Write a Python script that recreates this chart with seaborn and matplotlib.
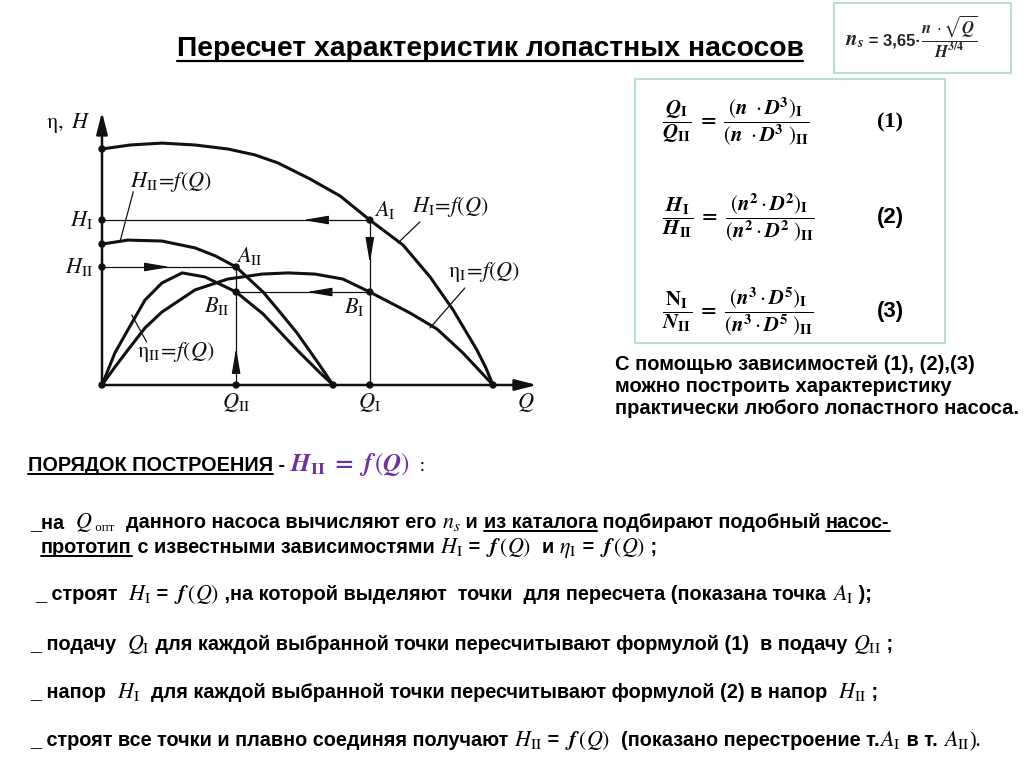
import matplotlib
matplotlib.use('Agg')
import numpy as np
import pandas as pd
import matplotlib.pyplot as plt
from matplotlib import font_manager
from matplotlib.lines import Line2D
from matplotlib.patches import Rectangle
import seaborn as sns

# Curves (Q and H / eta in relative units, origin at 0)
q_h1 = [0, 0.72, 1.53, 2.38, 3.22, 3.91, 4.50, 5.32, 6.09, 6.85, 7.70, 8.39, 8.98, 9.59, 9.82, 10.0]
h1 = [10.0, 10.17, 10.25, 10.17, 10.0, 9.75, 9.41, 8.73, 8.01, 6.99, 5.93, 4.58, 3.18, 1.48, 0.72, 0]

q_eta1 = [0, 0.33, 0.66, 1.10, 1.53, 2.38, 3.22, 4.09, 4.76, 5.45, 6.16, 6.85, 7.88, 8.57, 9.23, 10.0]
eta1 = [0, 0.76, 1.48, 2.42, 3.09, 4.03, 4.49, 4.70, 4.75, 4.70, 4.49, 3.94, 3.05, 2.37, 1.36, 0]

q_h2 = [0, 0.66, 1.53, 2.38, 2.90, 3.43, 4.12, 4.55, 4.99, 5.58, 5.91]
h2 = [5.97, 6.14, 6.10, 5.81, 5.47, 5.00, 3.94, 3.09, 2.20, 0.81, 0]

q_eta2 = [0, 0.33, 0.66, 1.10, 1.53, 2.05, 2.63, 3.22, 3.43, 4.12, 4.99, 5.58, 5.91]
eta2 = [0, 1.36, 2.33, 3.60, 4.32, 4.75, 4.58, 4.11, 3.94, 3.01, 1.48, 0.51, 0]

# recalculated points
Q_I, Q_II = 6.85, 3.43
H_A1, H_A2, ETA_B = 6.99, 5.00, 3.94

W, H = 1024, 767
ink = '#111111'

sns.set_theme(style='white')
plt.rcParams['font.family'] = ['Liberation Sans', 'DejaVu Sans']
plt.rcParams['mathtext.fontset'] = 'stix'

names = {f.name for f in font_manager.fontManager.ttflist}
if 'Liberation Sans Narrow' in names:
    BODY, FS = 'Liberation Sans Narrow', 15.5
else:
    BODY, FS = 'Liberation Sans', 14.3

fig = plt.figure(figsize=(W / 100, H / 100), dpi=100)
fig.patch.set_facecolor('white')
renderer = fig.canvas.get_renderer()


def run(x, y, parts):
    # place pieces of text one after another on a common baseline (pixel coords)
    for p in parts:
        s, st = p[0], p[1]
        ul = len(p) > 2 and p[2]
        dy = p[3] if len(p) > 3 else 0
        t = fig.text(x / W, 1 - (y + dy) / H, s, ha='left', va='baseline', **st)
        bb = t.get_window_extent(renderer)
        if ul:
            fig.add_artist(Line2D([bb.x0 / W, bb.x1 / W], [1 - (y + 3) / H] * 2,
                                  color=st.get('color', 'black'), lw=1.4))
        x = bb.x1
    return x


# ---------------- chart ----------------
X0, Y0, SX, SY = 102, 385, 39.1, 23.6
ax = fig.add_axes([40 / W, 1 - 420 / H, 520 / W, 320 / H])
ax.set_xlim((40 - X0) / SX, (560 - X0) / SX)
ax.set_ylim((Y0 - 420) / SY, (Y0 - 100) / SY)
ax.axis('off')

curves = pd.concat([
    pd.DataFrame({'Q': q_h1, 'v': h1, 'curve': 'H_I'}),
    pd.DataFrame({'Q': q_eta1, 'v': eta1, 'curve': 'eta_I'}),
    pd.DataFrame({'Q': q_h2, 'v': h2, 'curve': 'H_II'}),
    pd.DataFrame({'Q': q_eta2, 'v': eta2, 'curve': 'eta_II'}),
])
sns.lineplot(data=curves, x='Q', y='v', units='curve', estimator=None, sort=False,
             color=ink, lw=2.2, ax=ax, legend=False)

thin = dict(color=ink, lw=0.9)
ax.plot([0, Q_I], [H_A1, H_A1], **thin)
ax.plot([Q_I, Q_I], [0, H_A1], **thin)
ax.plot([Q_II, Q_I], [ETA_B, ETA_B], **thin)
ax.plot([0, Q_II], [H_A2, H_A2], **thin)
ax.plot([Q_II, Q_II], [0, H_A2], **thin)

# axes with arrows
arr = dict(arrowstyle='-|>,head_length=1.1,head_width=0.28', color=ink, lw=1.8, shrinkA=0, shrinkB=0)
ax.annotate('', xy=((537 - X0) / SX, 0), xytext=(0, 0), arrowprops=arr)
ax.annotate('', xy=(0, (Y0 - 112) / SY), xytext=(0, 0), arrowprops=arr)

small = dict(arrowstyle='-|>,head_length=1.3,head_width=0.22', color=ink, lw=0.9, shrinkA=0, shrinkB=0)
ax.annotate('', xy=(5.14, H_A1), xytext=(5.7, H_A1), arrowprops=small)
ax.annotate('', xy=(5.23, ETA_B), xytext=(5.8, ETA_B), arrowprops=small)
ax.annotate('', xy=(1.74, H_A2), xytext=(1.2, H_A2), arrowprops=small)
ax.annotate('', xy=(Q_II, 1.57), xytext=(Q_II, 0.6), arrowprops=small)
ax.annotate('', xy=(Q_I, 5.17), xytext=(Q_I, 6.1), arrowprops=small)

pts = pd.DataFrame({
    'Q': [0, 0, 0, 0, 0, q_h2[-1], Q_II, Q_I, q_h1[-1], Q_I, Q_I, Q_II, Q_II],
    'v': [0, h1[0], H_A1, h2[0], H_A2, 0, 0, 0, 0, H_A1, ETA_B, H_A2, ETA_B],
})
sns.scatterplot(data=pts, x='Q', y='v', color=ink, s=28, edgecolor='none', ax=ax, zorder=5)

lab = dict(fontsize=16, color=ink, va='center')
ax.text(-0.85, 11.1, r'$\mathrm{\eta},\ H$', ha='center', **lab)
ax.text(-0.22, H_A1, r'$H_{\mathrm{I}}$', ha='right', **lab)
ax.text(-0.22, H_A2, r'$H_{\mathrm{II}}$', ha='right', **lab)
ax.text(Q_II, -0.75, r'$Q_{\mathrm{II}}$', ha='center', **lab)
ax.text(Q_I, -0.75, r'$Q_{\mathrm{I}}$', ha='center', **lab)
ax.text(10.85, -0.75, r'$Q$', ha='center', **lab)
ax.text(6.95, 7.4, r'$A_{\mathrm{I}}$', ha='left', **lab)
ax.text(6.2, 3.3, r'$B_{\mathrm{I}}$', ha='left', **lab)
ax.text(3.42, 5.45, r'$A_{\mathrm{II}}$', ha='left', **lab)
ax.text(2.6, 3.35, r'$B_{\mathrm{II}}$', ha='left', **lab)
ax.text(7.92, 7.55, r'$H_{\mathrm{I}}\!=\!f(Q)$', ha='left', **lab)
ax.text(8.85, 4.8, r'$\mathrm{\eta}_{\mathrm{I}}\!=\!f(Q)$', ha='left', **lab)
ax.text(0.72, 8.6, r'$H_{\mathrm{II}}\!=\!f(Q)$', ha='left', **lab)
ax.text(0.9, 1.4, r'$\mathrm{\eta}_{\mathrm{II}}\!=\!f(Q)$', ha='left', **lab)
ax.plot([8.13, 7.57], [6.91, 6.02], **thin)
ax.plot([9.28, 8.39], [4.11, 2.42], **thin)
ax.plot([0.80, 0.46], [8.19, 6.07], **thin)
ax.plot([1.14, 0.76], [1.83, 2.97], **thin)

# ---------------- title ----------------
t = fig.text(490 / W, 1 - 56 / H, 'Пересчет характеристик лопастных насосов',
             ha='center', va='baseline', fontsize=20.3, fontweight='bold', color='black')
bb = t.get_window_extent(renderer)
fig.add_artist(Line2D([bb.x0 / W, bb.x1 / W], [1 - 61 / H] * 2, color='black', lw=1.6))

# ---------------- formula boxes ----------------
box_col = '#b8dfd1'
fig.add_artist(Rectangle((834 / W, 1 - 73 / H), 177 / W, 70 / H, transform=fig.transFigure,
                         fill=False, edgecolor=box_col, lw=1.5))
fig.add_artist(Rectangle((635 / W, 1 - 343 / H), 310 / W, 264 / H, transform=fig.transFigure,
                         fill=False, edgecolor=box_col, lw=1.5))

run(845, 45, [
    (r'$\mathbfit{n}_{\mathbfit{s}}$', dict(fontsize=15)),
    (' = 3,65·', dict(fontsize=12, fontweight='bold')),
    (r'$\dfrac{\mathbfit{n}\ \cdot\sqrt{\mathbfit{Q}}}{\mathbfit{H}^{\mathbf{3/4}}}$', dict(fontsize=12)),
])

f1 = (r'$\dfrac{\mathbfit{Q}_{\mathbf{I}}}{\mathbfit{Q}_{\mathbf{II}}}\ \mathbf{=}\ '
      r'\dfrac{(\mathbfit{n}\ \cdot\mathbfit{D}^{\mathbf{3}})_{\mathbf{I}}}'
      r'{(\mathbfit{n}\ \cdot\mathbfit{D}^{\mathbf{3}}\ )_{\mathbf{II}}}$')
f2 = (r'$\dfrac{\mathbfit{H}_{\mathbf{I}}}{\mathbfit{H}_{\mathbf{II}}}\ \mathbf{=}\ '
      r'\dfrac{(\mathbfit{n}^{\mathbf{2}}\cdot\mathbfit{D}^{\mathbf{2}})_{\mathbf{I}}}'
      r'{(\mathbfit{n}^{\mathbf{2}}\cdot\mathbfit{D}^{\mathbf{2}}\ )_{\mathbf{II}}}$')
f3 = (r'$\dfrac{\mathbf{N}_{\mathbf{I}}}{\mathbfit{N}_{\mathbf{II}}}\ \mathbf{=}\ '
      r'\dfrac{(\mathbfit{n}^{\mathbf{3}}\cdot\mathbfit{D}^{\mathbf{5}})_{\mathbf{I}}}'
      r'{(\mathbfit{n}^{\mathbf{3}}\cdot\mathbfit{D}^{\mathbf{5}}\ )_{\mathbf{II}}}$')
for f, yc, lbl, fam in [(f1, 122, '(1)', 'Liberation Serif'), (f2, 218, '(2)', 'Liberation Sans'),
                        (f3, 312, '(3)', 'Liberation Sans')]:
    fig.text(662 / W, 1 - yc / H, f, ha='left', va='center', fontsize=15, color='black')
    fig.text(890 / W, 1 - yc / H, lbl, ha='center', va='center', fontsize=16,
             fontweight='bold', family=fam, color='black')

side = dict(fontsize=14.5, fontweight='bold', color='black')
fig.text(615 / W, 1 - 370 / H, 'С помощью зависимостей (1), (2),(3)', va='baseline', **side)
fig.text(615 / W, 1 - 392 / H, 'можно построить характеристику', va='baseline', **side)
fig.text(615 / W, 1 - 414 / H, 'практически любого лопастного насоса.', va='baseline', **side)

# ---------------- procedure text ----------------
B = dict(fontsize=FS, fontweight='bold', family=BODY, color='black')
Bu = dict(fontsize=14.3, fontweight='bold', family='Liberation Sans', color='black')
M = dict(fontsize=FS + 1.5, color='black')
SUB = dict(fontsize=FS - 5, family='Liberation Serif', color='black')
P = dict(fontsize=18, color='#7030a0')

HI, HII = r'$H_{\mathrm{I}}$', r'$H_{\mathrm{II}}$'
FQ = r'$\mathbfit{f}\,(Q)$'

run(28, 471, [('ПОРЯДОК ПОСТРОЕНИЯ', Bu, True), (' - ', Bu),
              (r'$\mathbfit{H}_{\mathbf{II}}\ \mathbf{=}\ \mathbfit{f}\,(\mathbfit{Q})$', P),
              ('  :', dict(fontsize=14, family='Liberation Serif', color='black'))])
run(30, 528, [('_на  ', B), (r'$Q$', M), (' опт', SUB, False, 3), ('  данного насоса вычисляют его ', B),
              (r'$n_s$', M), (' и ', B), ('из каталога', B, True), (' подбирают подобный ', B),
              ('насос-', B, True)])
run(41, 553, [('прототип', B, True), (' с известными зависимостями ', B), (HI, M), (' = ', B),
              (FQ, M), ('  и ', B), (r'$\eta_{\mathrm{I}}$', M), (' = ', B), (FQ, M), (' ;', B)])
run(35, 600, [('_ строят  ', B), (HI, M), (' = ', B), (FQ, M),
              (' ,на которой выделяют  точки  для пересчета (показана точка ', B),
              (r'$A_{\mathrm{I}}$', M), (' );', B)])
run(30, 650, [('_ подачу  ', B), (r'$Q_{\mathrm{I}}$', M),
              (' для каждой выбранной точки пересчитывают формулой (1)  в подачу ', B),
              (r'$Q_{\mathrm{II}}$', M), (' ;', B)])
run(30, 698, [('_ напор  ', B), (HI, M), ('  для каждой выбранной точки пересчитывают формулой (2) в напор  ', B),
              (HII, M), (' ;', B)])
run(30, 746, [('_ строят все точки и плавно соединяя получают ', B), (HII, M), (' = ', B), (FQ, M),
              ('  (показано перестроение т.', B), (r'$A_{\mathrm{I}}$', M), (' в т. ', B),
              (r'$A_{\mathrm{II}}$', M), (').', dict(fontsize=FS, family='Liberation Serif', color='black'))])

fig.savefig('out.png', dpi=100)
